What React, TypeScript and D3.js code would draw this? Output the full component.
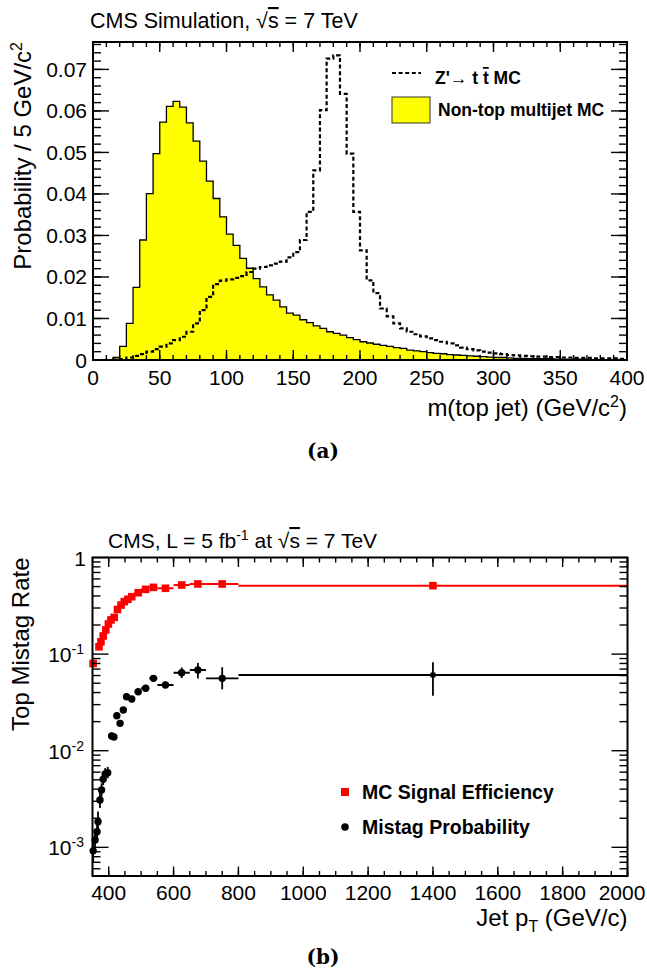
import React from 'react';
import * as d3 from 'd3';

// top panel: jet mass histograms, 5 GeV bins from 0 to 400
const massBinWidth = 5;
const qcdMass = [
  0, 0, 0.0001, 0.0006, 0.0033, 0.0088, 0.0175, 0.0289, 0.0401, 0.0497,
  0.0573, 0.0611, 0.0623, 0.0609, 0.0571, 0.0527, 0.0479, 0.0431, 0.0389, 0.0345,
  0.0303, 0.0276, 0.0245, 0.0221, 0.0196, 0.0176, 0.0157, 0.0144, 0.0128, 0.0113,
  0.0108, 0.0097, 0.009, 0.0082, 0.0076, 0.0068, 0.0064, 0.006, 0.0054, 0.0049,
  0.0044, 0.0041, 0.0038, 0.0035, 0.0033, 0.003, 0.0028, 0.0024, 0.0022, 0.002,
  0.0018, 0.0016, 0.0015, 0.0013, 0.0012, 0.0011, 0.001, 0.0009, 0.0008, 0.0007,
  0.0006, 0.0006, 0.0005, 0.0004, 0.0004, 0.0003, 0.0003, 0.0003, 0.0003, 0.0002,
  0.0002, 0.0002, 0.0002, 0.0002, 0.0001, 0.0001, 0.0001, 0.0001, 0.0001, 0.0001,
];
const zprimeMass = [
  0, 0, 0, 0.0001, 0.0002, 0.0006, 0.001, 0.0014, 0.002, 0.0026,
  0.0032, 0.004, 0.0048, 0.0056, 0.0068, 0.0088, 0.012, 0.0152, 0.0183, 0.0191,
  0.0194, 0.0198, 0.0202, 0.0212, 0.022, 0.0224, 0.0228, 0.0232, 0.0237, 0.0247,
  0.026, 0.0289, 0.0357, 0.0457, 0.0602, 0.0726, 0.0734, 0.0641, 0.0497, 0.0357,
  0.0264, 0.0192, 0.0161, 0.0124, 0.0105, 0.0088, 0.0076, 0.0068, 0.0062, 0.0057,
  0.0052, 0.0048, 0.0044, 0.004, 0.0035, 0.003, 0.0026, 0.0023, 0.002, 0.0018,
  0.0016, 0.0014, 0.0012, 0.0011, 0.001, 0.0009, 0.0008, 0.0008, 0.0007, 0.0007,
  0.0006, 0.0006, 0.0005, 0.0005, 0.0005, 0.0004, 0.0004, 0.0004, 0.0004, 0.0003,
];
const probTickLabels = ['0', '0.01', '0.02', '0.03', '0.04', '0.05', '0.06', '0.07'];
const massTickLabels = ['0', '50', '100', '150', '200', '250', '300', '350', '400'];

// bottom panel: MC signal efficiency (red squares)
const effPt = [352, 370, 376, 383, 391, 399, 407, 417, 427, 438, 448, 459, 471, 491, 514, 538, 575, 625, 675, 750, 1400];
const effPtLo = [350, 366, 373, 380, 387, 395, 403, 412, 422, 433, 443, 454, 465, 480, 500, 525, 550, 600, 650, 700, 800];
const effPtHi = [355, 373, 380, 387, 395, 403, 412, 422, 433, 443, 454, 465, 480, 500, 525, 550, 600, 650, 700, 800, 2000];
const effVal = [0.08, 0.119, 0.134, 0.154, 0.178, 0.205, 0.226, 0.24, 0.29, 0.322, 0.349, 0.369, 0.393, 0.432, 0.468, 0.491, 0.48, 0.519, 0.532, 0.532, 0.511];

// bottom panel: mistag probability (black circles)
const misPt = [352, 358, 364, 367, 373, 378, 383, 389, 397, 409, 416, 425, 435, 445, 455, 471, 491, 514, 538, 575, 625, 675, 750, 1400];
const misPtLo = [350, 355, 361, 365, 370, 375, 380, 385, 392, 405, 412, 420, 430, 440, 450, 460, 480, 500, 525, 550, 600, 650, 700, 800];
const misPtHi = [355, 361, 365, 370, 375, 380, 385, 392, 400, 412, 420, 430, 440, 450, 460, 480, 500, 525, 550, 600, 650, 700, 800, 2000];
const misVal = [0.00092, 0.00119, 0.00145, 0.00184, 0.00309, 0.00392, 0.00506, 0.00574, 0.00592, 0.0142, 0.0139, 0.023, 0.0192, 0.0264, 0.0362, 0.0343, 0.0408, 0.0443, 0.0561, 0.0479, 0.0641, 0.0685, 0.0561, 0.0608];
const misLow = [0.0007, 0.0009, 0.00112, 0.00145, 0.00255, 0.00335, 0.0044, 0.005, 0.0052, 0.0131, 0.0128, 0.0215, 0.0178, 0.0248, 0.0342, 0.0325, 0.0387, 0.0418, 0.0527, 0.0445, 0.0565, 0.056, 0.0432, 0.0371];
const misHigh = [0.0012, 0.00155, 0.00185, 0.00235, 0.00375, 0.0046, 0.0058, 0.0066, 0.0068, 0.0154, 0.0151, 0.0246, 0.0207, 0.0281, 0.0383, 0.0362, 0.043, 0.047, 0.0597, 0.0516, 0.0727, 0.081, 0.0731, 0.0822];
const ptTickLabels = ['400', '600', '800', '1000', '1200', '1400', '1600', '1800', '2000'];

const FONT = '"Liberation Sans", Arial, Helvetica, sans-serif';
const LABEL = 21;
const TITLE = 24;

const App = () => {
  // ---------- top panel ----------
  const tp = { l: 93, r: 627, t: 42, b: 360 };
  const xM = d3.scaleLinear().domain([0, 400]).range([tp.l, tp.r]);
  const yP = d3.scaleLinear().domain([0, 0.0766]).range([tp.b, tp.t]);

  const toPts = (arr: number[]) => {
    const p: [number, number][] = arr.map((v, i) => [i * massBinWidth, v]);
    p.push([arr.length * massBinWidth, arr[arr.length - 1]]);
    return p;
  };
  const histArea = d3.area<[number, number]>()
    .x(d => xM(d[0])).y0(yP(0)).y1(d => yP(d[1]))
    .curve(d3.curveStepAfter);
  const histLine = d3.line<[number, number]>()
    .x(d => xM(d[0])).y(d => yP(d[1]))
    .curve(d3.curveStepAfter);

  const massMajor = d3.range(0, 401, 50);
  const massMinor = d3.range(0, 401, 10);
  const probMajor = d3.range(0, 0.0701, 0.01);
  const probMinor = d3.range(0, 0.0766, 0.002);

  // ---------- bottom panel ----------
  const bp = { l: 92.5, r: 627.5, t: 557.5, b: 876 };
  const xT = d3.scaleLinear().domain([350, 2000]).range([bp.l, bp.r]);
  const yR = d3.scaleLog().domain([0.000505, 1]).range([bp.b, bp.t]);

  const ptMajor = d3.range(400, 2001, 200);
  const ptMinor = d3.range(350, 2001, 50);
  const decades = [1e-3, 1e-2, 1e-1, 1];
  const logMinor: number[] = [];
  [1e-4, 1e-3, 1e-2, 1e-1].forEach(d => {
    for (let k = 2; k <= 9; k++) {
      const v = k * d;
      if (v >= 0.000505 && v <= 1) logMinor.push(v);
    }
  });

  const tick = (x1: number, y1: number, x2: number, y2: number, k: string) => (
    <line key={k} x1={x1} y1={y1} x2={x2} y2={y2} stroke="#000" strokeWidth={1.4} />
  );

  return (
    <svg width={647} height={978} style={{ position: 'absolute', left: 0, top: 0, display: 'block', background: '#fff' }}
      fontFamily={FONT}>
      <defs>
        <clipPath id="topclip"><rect x={tp.l} y={tp.t} width={tp.r - tp.l} height={tp.b - tp.t} /></clipPath>
        <clipPath id="botclip"><rect x={bp.l} y={bp.t} width={bp.r - bp.l} height={bp.b - bp.t} /></clipPath>
      </defs>

      {/* ===== top panel ===== */}
      <text x={90} y={28} fontSize={21.5}>
        CMS Simulation, √<tspan style={{ textDecoration: 'overline' }}>s</tspan> = 7 TeV
      </text>

      <g clipPath="url(#topclip)">
        <path d={histArea(toPts(qcdMass)) || ''} fill="#ffff00" />
        <path d={histLine(toPts(qcdMass)) || ''} fill="none" stroke="#000" strokeWidth={1.3} />
        <path d={histLine(toPts(zprimeMass)) || ''} fill="none" stroke="#000" strokeWidth={2.2}
          strokeDasharray="4,2.6" />
      </g>

      {massMinor.map((v, i) => tick(xM(v), tp.b, xM(v), tp.b - 5, 'mb' + i))}
      {massMinor.map((v, i) => tick(xM(v), tp.t, xM(v), tp.t + 5, 'mt' + i))}
      {massMajor.map((v, i) => tick(xM(v), tp.b, xM(v), tp.b - 10, 'Mb' + i))}
      {massMajor.map((v, i) => tick(xM(v), tp.t, xM(v), tp.t + 10, 'Mt' + i))}
      {probMinor.map((v, i) => tick(tp.l, yP(v), tp.l + 8, yP(v), 'pl' + i))}
      {probMinor.map((v, i) => tick(tp.r, yP(v), tp.r - 8, yP(v), 'pr' + i))}
      {probMajor.map((v, i) => tick(tp.l, yP(v), tp.l + 16, yP(v), 'Pl' + i))}
      {probMajor.map((v, i) => tick(tp.r, yP(v), tp.r - 16, yP(v), 'Pr' + i))}
      <rect x={tp.l} y={tp.t} width={tp.r - tp.l} height={tp.b - tp.t} fill="none" stroke="#000" strokeWidth={2} />

      {probMajor.map((v, i) => (
        <text key={'pl' + i} x={87} y={yP(v) + 7.5} fontSize={LABEL} textAnchor="end">{probTickLabels[i]}</text>
      ))}
      {massMajor.map((v, i) => (
        <text key={'ml' + i} x={Math.min(xM(v), 646 - 18)} y={385} fontSize={LABEL} textAnchor="middle">{massTickLabels[i]}</text>
      ))}
      <text x={tp.r} y={416} fontSize={TITLE} textAnchor="end">
        m(top jet) (GeV/c<tspan dy={-9} fontSize={16}>2</tspan><tspan dy={9}>)</tspan>
      </text>
      <text transform={`translate(31,${tp.t}) rotate(-90)`} fontSize={TITLE} textAnchor="end">
        Probability / 5 GeV/c<tspan dy={-9} fontSize={16}>2</tspan>
      </text>

      {/* legend */}
      <line x1={392} x2={421} y1={73} y2={73} stroke="#000" strokeWidth={2.2} strokeDasharray="4,2.6" />
      <text x={435} y={84} fontSize={17.5} fontWeight="bold">
        Z'→ t <tspan style={{ textDecoration: 'overline' }}>t</tspan> MC
      </text>
      <rect x={392} y={97} width={38} height={26} fill="#ffff00" stroke="#333" strokeWidth={1} />
      <text x={438} y={116} fontSize={17.5} fontWeight="bold">Non-top multijet MC</text>

      <text x={323} y={458} fontSize={20} fontWeight="bold" textAnchor="middle"
        fontFamily='"DejaVu Serif", "Liberation Serif", serif'>(a)</text>

      {/* ===== bottom panel ===== */}
      <text x={108} y={548} fontSize={21}>
        CMS, L = 5 fb<tspan dy={-8} fontSize={14}>-1</tspan><tspan dy={8}> at √</tspan>
        <tspan style={{ textDecoration: 'overline' }}>s</tspan> = 7 TeV
      </text>

      <g clipPath="url(#botclip)">
        {misPt.map((p, i) => (
          <line key={'mx' + i} x1={xT(misPtLo[i])} x2={xT(misPtHi[i])} y1={yR(misVal[i])} y2={yR(misVal[i])}
            stroke="#000" strokeWidth={1.8} />
        ))}
        {effPt.map((p, i) => (
          <line key={'ex' + i} x1={xT(effPtLo[i])} x2={xT(effPtHi[i])} y1={yR(effVal[i])} y2={yR(effVal[i])}
            stroke="#ff0000" strokeWidth={2} />
        ))}
      </g>
      {misPt.map((p, i) => (
        <g key={'m' + i}>
          <line x1={xT(p)} x2={xT(p)} y1={yR(misLow[i])} y2={yR(misHigh[i])} stroke="#000" strokeWidth={1.8} />
          {misPtHi[i] - misPtLo[i] > 500
            ? <rect x={xT(p) - 2.5} y={yR(misVal[i]) - 2.5} width={5} height={5} fill="#000" />
            : <circle cx={xT(p)} cy={yR(misVal[i])} r={3.7} fill="#000" />}
        </g>
      ))}
      {effPt.map((p, i) => (
        <rect key={'e' + i} x={xT(p) - 3.8} y={yR(effVal[i]) - 3.8} width={7.6} height={7.6} fill="#ff0000" />
      ))}

      {ptMinor.map((v, i) => tick(xT(v), bp.b, xT(v), bp.b - 5, 'tb' + i))}
      {ptMinor.map((v, i) => tick(xT(v), bp.t, xT(v), bp.t + 5, 'tt' + i))}
      {ptMajor.map((v, i) => tick(xT(v), bp.b, xT(v), bp.b - 9.5, 'Tb' + i))}
      {ptMajor.map((v, i) => tick(xT(v), bp.t, xT(v), bp.t + 9.5, 'Tt' + i))}
      {logMinor.map((v, i) => tick(bp.l, yR(v), bp.l + 8, yR(v), 'rl' + i))}
      {logMinor.map((v, i) => tick(bp.r, yR(v), bp.r - 8, yR(v), 'rr' + i))}
      {decades.map((v, i) => tick(bp.l, yR(v), bp.l + 16, yR(v), 'Rl' + i))}
      {decades.map((v, i) => tick(bp.r, yR(v), bp.r - 16, yR(v), 'Rr' + i))}
      <rect x={bp.l} y={bp.t} width={bp.r - bp.l} height={bp.b - bp.t} fill="none" stroke="#000" strokeWidth={2} />

      {decades.map((v, i) => {
        const exp = Math.round(Math.log10(v));
        return exp === 0 ? (
          <text key={'rl' + i} x={86} y={yR(v) + 8} fontSize={LABEL} textAnchor="end">1</text>
        ) : (
          <text key={'rl' + i} x={84} y={yR(v) + 8} fontSize={LABEL} textAnchor="end">
            10<tspan dy={-8} fontSize={14}>{String(exp)}</tspan>
          </text>
        );
      })}
      {ptMajor.map((v, i) => (
        <text key={'tl' + i} x={Math.min(xT(v), 646 - 24)} y={900} fontSize={LABEL} textAnchor="middle">{ptTickLabels[i]}</text>
      ))}
      <text x={bp.r} y={926} fontSize={TITLE} textAnchor="end">
        Jet p<tspan dy={6} fontSize={16}>T</tspan><tspan dy={-6}> (GeV/c)</tspan>
      </text>
      <text transform={`translate(29,${bp.t}) rotate(-90)`} fontSize={TITLE} textAnchor="end">Top Mistag Rate</text>

      {/* legend */}
      <rect x={341} y={788} width={8} height={8} fill="#ff0000" />
      <text x={362} y={799} fontSize={19.5} fontWeight="bold">MC Signal Efficiency</text>
      <circle cx={345} cy={827} r={3.8} fill="#000" />
      <text x={362} y={834} fontSize={19.5} fontWeight="bold">Mistag Probability</text>

      <text x={323} y={964} fontSize={20} fontWeight="bold" textAnchor="middle"
        fontFamily='"DejaVu Serif", "Liberation Serif", serif'>(b)</text>
    </svg>
  );
};

export default App;
